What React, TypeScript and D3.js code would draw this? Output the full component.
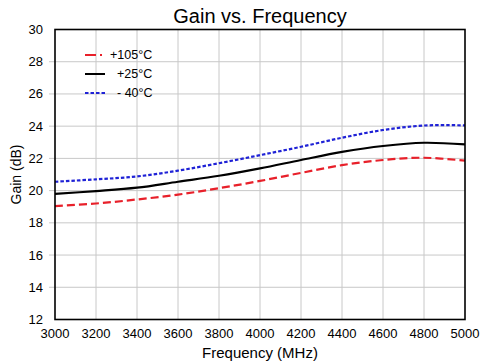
import * as d3 from "d3";

const frequencies = [3000, 3200, 3400, 3600, 3800, 4000, 4200, 4400, 4600, 4800, 5000];
const gain105 = [19.04, 19.2, 19.45, 19.75, 20.15, 20.6, 21.1, 21.58, 21.9, 22.04, 21.86];
const gain25 = [19.8, 19.97, 20.18, 20.55, 20.92, 21.38, 21.9, 22.4, 22.77, 22.97, 22.87];
const gainM40 = [20.55, 20.7, 20.88, 21.24, 21.7, 22.2, 22.72, 23.28, 23.76, 24.04, 24.05];
const xTicks = [3000, 3200, 3400, 3600, 3800, 4000, 4200, 4400, 4600, 4800, 5000];
const yTicks = [12, 14, 16, 18, 20, 22, 24, 26, 28, 30];

const series = [
  { label: "+105°C", values: gain105, color: "#e8202a", dash: "8,4", textX: 110 },
  { label: "+25°C", values: gain25, color: "#000000", dash: null, textX: 117 },
  { label: "- 40°C", values: gainM40, color: "#1f22d6", dash: "3.5,2", textX: 117 },
];

const width = 484;
const height = 363;
const margin = { top: 29.5, right: 19, bottom: 43.5, left: 55 };
const font = "Liberation Sans, Arial, sans-serif";

export default function App() {
  const x = d3
    .scaleLinear()
    .domain([3000, 5000])
    .range([margin.left, width - margin.right]);
  const y = d3
    .scaleLinear()
    .domain([12, 30])
    .range([height - margin.bottom, margin.top]);

  const line = d3
    .line<number>()
    .x((_, i) => x(frequencies[i]))
    .y((d) => y(d))
    .curve(d3.curveCatmullRom.alpha(0.5));

  return (
    <svg
      width={width}
      height={height}
      style={{ position: "absolute", left: 0, top: 0, background: "#fff" }}
      fontFamily={font}
    >
      <rect width={width} height={height} fill="#fff" />
      <g stroke="#c8c8c8" strokeWidth={1}>
        {xTicks.slice(1, -1).map((t) => (
          <line key={t} x1={x(t)} x2={x(t)} y1={y(30)} y2={y(12)} />
        ))}
        {yTicks.slice(1, -1).map((t) => (
          <line key={t} x1={x(3000) - 6} x2={x(5000)} y1={y(t)} y2={y(t)} />
        ))}
      </g>
      {series.map((s) => (
        <path
          key={s.label}
          d={line(s.values) ?? ""}
          fill="none"
          stroke={s.color}
          strokeWidth={2.2}
          strokeDasharray={s.dash ?? undefined}
        />
      ))}
      <rect
        x={x(3000)}
        y={y(30)}
        width={x(5000) - x(3000)}
        height={y(12) - y(30)}
        fill="none"
        stroke="#000"
        strokeWidth={1.6}
      />
      {series.map((s, i) => (
        <g key={s.label}>
          <line
            x1={85}
            x2={105}
            y1={55 + i * 19}
            y2={55 + i * 19}
            stroke={s.color}
            strokeWidth={2}
            strokeDasharray={i === 0 ? "11,4,2,4" : s.dash ?? undefined}
          />
          <text x={s.textX} y={55 + i * 19} dy="0.35em" fontSize={12.5} fill="#000">
            {s.label}
          </text>
        </g>
      ))}
      {yTicks.map((t) => (
        <text key={t} x={43} y={y(t)} dy="0.35em" textAnchor="end" fontSize={13}>
          {t}
        </text>
      ))}
      {xTicks.map((t) => (
        <text key={t} x={x(t)} y={338} textAnchor="middle" fontSize={13}>
          {t}
        </text>
      ))}
      <text x={(x(3000) + x(5000)) / 2} y={23} textAnchor="middle" fontSize={20}>
        Gain vs. Frequency
      </text>
      <text x={(x(3000) + x(5000)) / 2} y={358} textAnchor="middle" fontSize={15}>
        Frequency (MHz)
      </text>
      <text
        transform={`translate(21,${(y(12) + y(30)) / 2}) rotate(-90)`}
        textAnchor="middle"
        fontSize={14}
      >
        Gain (dB)
      </text>
    </svg>
  );
}
